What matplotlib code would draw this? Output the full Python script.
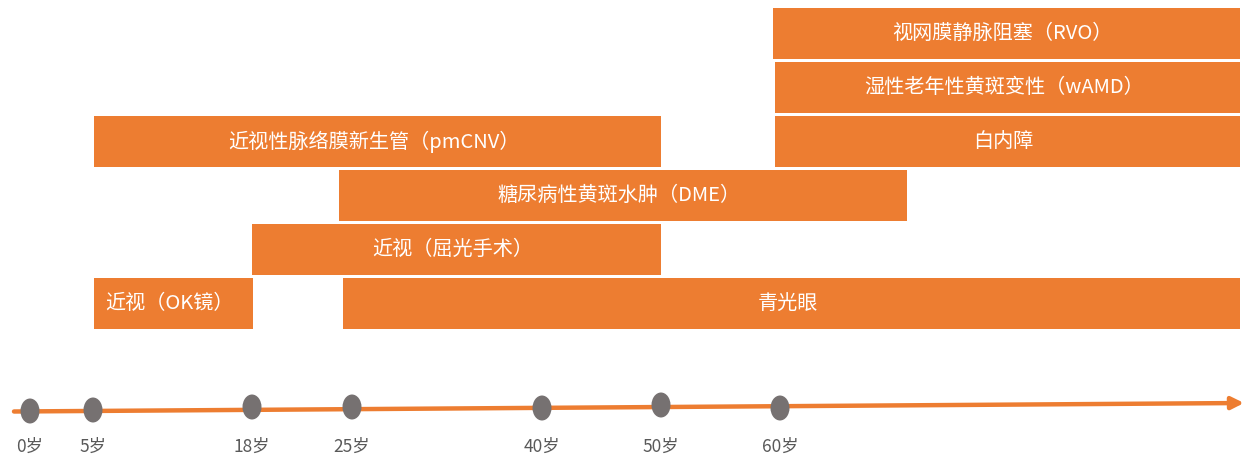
import matplotlib
matplotlib.use('Agg')
import matplotlib.pyplot as plt
from matplotlib.patches import Ellipse
import numpy as np

plt.rcParams['font.family'] = ['Noto Sans CJK SC', 'DejaVu Sans']

# ── Data ──────────────────────────────────────────────────────────────────────
AGE_TICKS = [0, 5, 18, 25, 40, 50, 60]
AGE_LABELS = ['0岁', '5岁', '18岁', '25岁', '40岁', '50岁', '60岁']

DISEASES = ['视网膜静脉阻塞（RVO）', '湿性老年性黄斑变性（wAMD）', '白内障',
            '近视性脉络膜新生管（pmCNV）', '糖尿病性黄斑水肿（DME）',
            '近视（屈光手术）', '近视（OK镜）', '青光眼']
START_AGE = [59.4, 59.6, 59.6, 5.1, 24.1, 18, 5.1, 24.4]
END_AGE = [100, 100, 100, 50, 71, 50, 18.1, 100]
ROW = [5, 4, 3, 3, 2, 1, 0, 0]

# ── Layout ────────────────────────────────────────────────────────────────────
# timeline is not to scale: piecewise positions of the age marks (pixels)
MAP_AGES = [0, 5, 18, 25, 40, 50, 60, 100]
MAP_POS = [30, 93, 252, 352, 542, 661, 780, 1240]
DOT_Y_PX = [411, 410, 407, 407, 408, 405, 408]

ORANGE = '#ED7D31'
GREY = '#767171'
TXT_GREY = '#595959'

ROW0_PX = 303.5   # pixel centre of row 0
ROW_PX = 54.0     # pixel spacing per row


def age_x(a):
    return np.interp(a, MAP_AGES, MAP_POS)


def px_y(p):
    # pixel y -> row units
    return (ROW0_PX - p) / ROW_PX


W, H, DPI = 1244, 459, 100
fig = plt.figure(figsize=(W / DPI, H / DPI), dpi=DPI)
ax = fig.add_axes([0, 0, 1, 1])
ax.set_xlim(0, W)
ax.set_ylim(px_y(H), px_y(0))
ax.axis('off')

# ── Bars ──────────────────────────────────────────────────────────────────────
x0 = age_x(START_AGE)
x1 = age_x(END_AGE)
ax.barh(ROW, x1 - x0, left=x0, height=51 / ROW_PX, color=ORANGE,
        edgecolor='none', zorder=2)
for name, a, b, r in zip(DISEASES, x0, x1, ROW):
    ax.text((a + b) / 2 - 4, r, name, ha='center', va='center',
            fontsize=14.5, fontweight='medium', color='white', zorder=3)

# ── Timeline ──────────────────────────────────────────────────────────────────
ax.annotate('', xy=(1244, px_y(403)), xytext=(14, px_y(411.5)),
            arrowprops=dict(arrowstyle='-|>', color=ORANGE, lw=3.2,
                            mutation_scale=18, shrinkA=0, shrinkB=0),
            zorder=2)

for age, lab, py in zip(AGE_TICKS, AGE_LABELS, DOT_Y_PX):
    x = age_x(age)
    ax.add_patch(Ellipse((x, px_y(py)), 19, 25 / ROW_PX, fc=GREY, ec='none',
                         zorder=4))
    ax.text(x, px_y(447), lab, ha='center', va='center',
            fontsize=12.5, color=TXT_GREY, zorder=4)

fig.savefig('out.png', dpi=DPI, facecolor='white')
